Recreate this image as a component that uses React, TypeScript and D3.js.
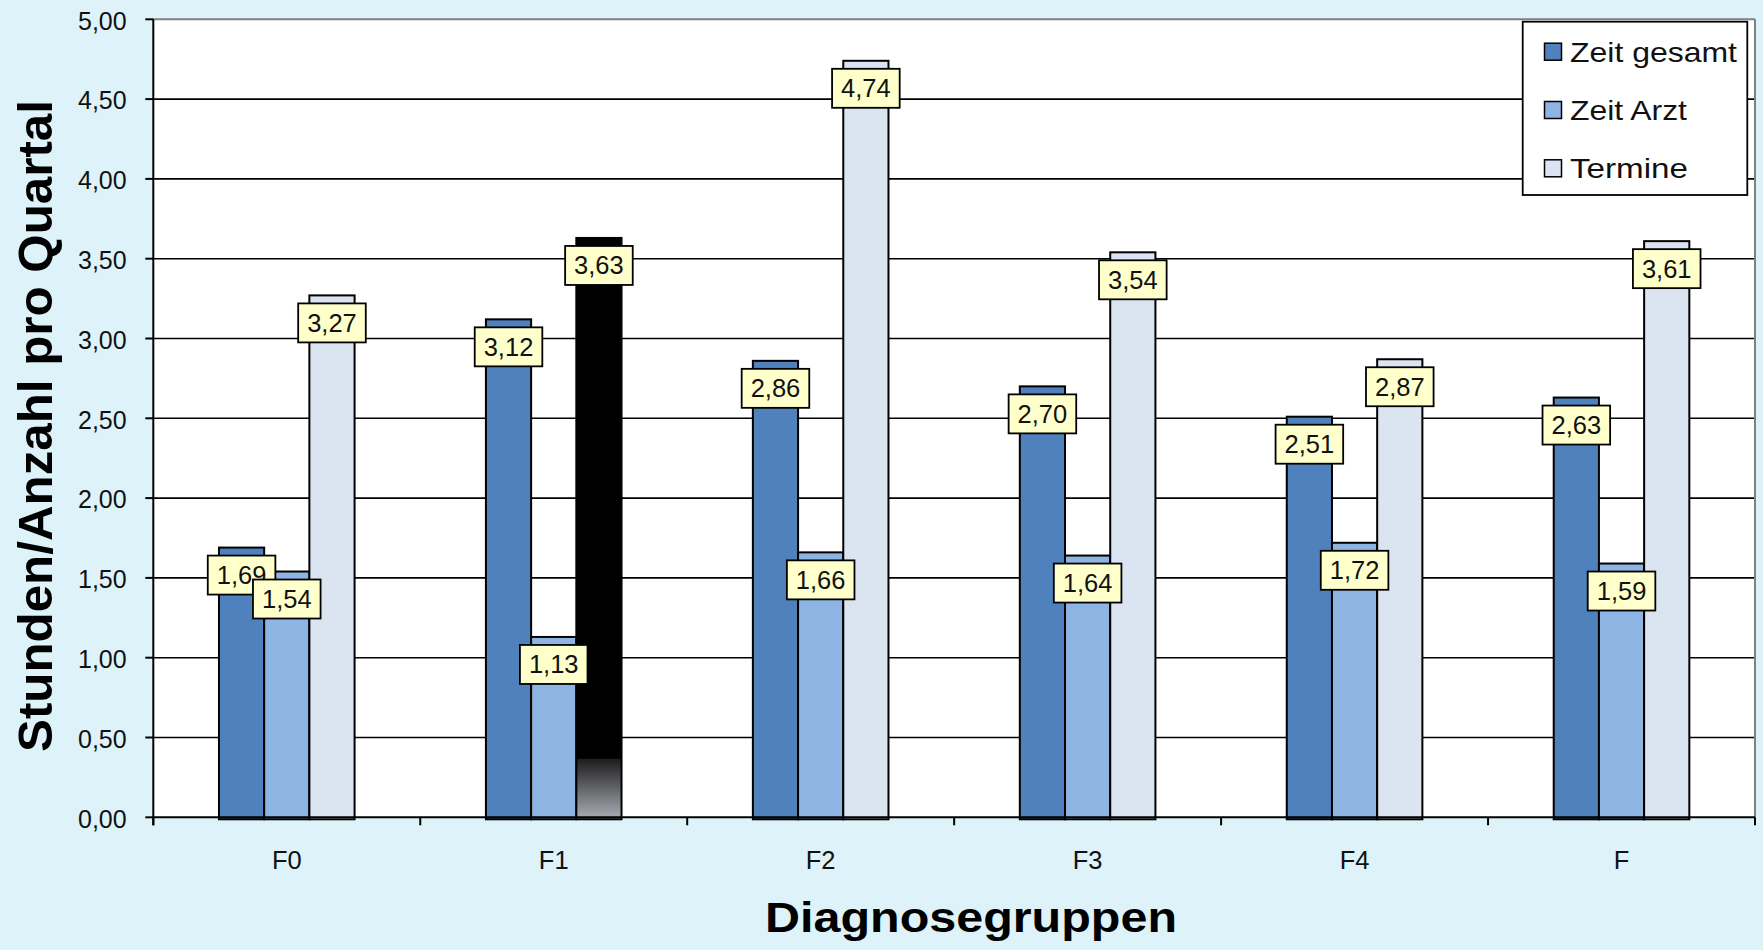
import React from "react";
import * as d3 from "d3";

const categories = ["F0", "F1", "F2", "F3", "F4", "F"];
const seriesNames = ["Zeit gesamt", "Zeit Arzt", "Termine"];
const zeitGesamt = [1.69, 3.12, 2.86, 2.7, 2.51, 2.63];
const zeitArzt = [1.54, 1.13, 1.66, 1.64, 1.72, 1.59];
const termine = [3.27, 3.63, 4.74, 3.54, 2.87, 3.61];
const yTicks = [0, 0.5, 1, 1.5, 2, 2.5, 3, 3.5, 4, 4.5, 5];
const seriesValues = [zeitGesamt, zeitArzt, termine];

const W = 1763;
const H = 950;
const FONT = "'Liberation Sans', Arial, Helvetica, sans-serif";
const colors = ["#4f81bd", "#8eb4e3", "#dbe5f1"];
const plotLeft = 153.3;
const plotRight = 1755;
const plotTop = 19.3;
const plotBottom = 817.3;

const fmt = (v: number) => v.toFixed(2).replace(".", ",");

export default function App() {
  const x0 = d3.scaleBand<string>().domain(categories).range([plotLeft, plotRight]).paddingInner(0).paddingOuter(0);
  const bw = x0.bandwidth();
  const gw = bw * 0.508;
  const x1 = d3.scaleBand<string>().domain(seriesNames).range([(bw - gw) / 2, (bw + gw) / 2]).padding(0);
  const y = d3.scaleLinear().domain([0, 5]).range([plotBottom, plotTop]);

  const bars: { cat: string; s: string; si: number; v: number; x: number; w: number }[] = [];
  seriesNames.forEach((s, si) => {
    categories.forEach((c, ci) => {
      bars.push({ cat: c, s, si, v: seriesValues[si][ci], x: (x0(c) as number) + (x1(s) as number), w: x1.bandwidth() });
    });
  });

  const boundaries = categories.map((c) => x0(c) as number).concat([plotRight]);

  return (
    <svg width={W} height={H} style={{ position: "absolute", left: 0, top: 0, display: "block" }} fontFamily={FONT}>
      <defs>
        <linearGradient id="glitch" gradientUnits="userSpaceOnUse" x1="0" x2="0" y1={y(3.63)} y2={y(0)}>
          <stop offset="0" stopColor="#000" />
          <stop offset="0.898" stopColor="#000" />
          <stop offset="0.9" stopColor="#1e1e1e" />
          <stop offset="1" stopColor="#a7aab2" />
        </linearGradient>
      </defs>
      <rect x={0} y={0} width={W} height={H} fill="#ddf3f9" />
      <rect x={plotLeft} y={plotTop} width={plotRight - plotLeft} height={plotBottom - plotTop} fill="#ffffff" />
      {yTicks.filter((t) => t > 0 && t < 5).map((t) => (
        <line key={"g" + t} x1={plotLeft} x2={plotRight} y1={y(t)} y2={y(t)} stroke="#000" strokeWidth={1.6} />
      ))}
      <line x1={plotLeft} x2={plotRight} y1={plotTop} y2={plotTop} stroke="#808080" strokeWidth={2} />
      <line x1={plotRight} x2={plotRight} y1={plotTop} y2={plotBottom} stroke="#808080" strokeWidth={2} />
      {/* y axis */}
      <line x1={plotLeft} x2={plotLeft} y1={plotTop} y2={plotBottom + 8} stroke="#000" strokeWidth={2} />
      {yTicks.map((t) => (
        <g key={"t" + t}>
          <line x1={plotLeft - 8} x2={plotLeft} y1={y(t)} y2={y(t)} stroke="#000" strokeWidth={2} />
          <text x={126.7} y={y(t) + 1.5} dy="0.35em" textAnchor="end" fontSize={25} fill="#111">
            {fmt(t)}
          </text>
        </g>
      ))}
      {/* bars */}
      {bars.map((b) => (
        <rect
          key={b.cat + b.s}
          x={b.x}
          y={y(b.v)}
          width={b.w}
          height={y(0) - y(b.v) + 2}
          fill={b.cat === "F1" && b.si === 2 ? "url(#glitch)" : colors[b.si]}
          stroke="#000"
          strokeWidth={2}
        />
      ))}
      {/* x axis */}
      <line x1={plotLeft} x2={plotRight} y1={plotBottom} y2={plotBottom} stroke="#000" strokeWidth={2} />
      {boundaries.map((bx, i) => (
        <line key={"xt" + i} x1={bx} x2={bx} y1={plotBottom} y2={plotBottom + 8} stroke="#000" strokeWidth={2} />
      ))}
      {categories.map((c) => (
        <text key={"xl" + c} x={(x0(c) as number) + bw / 2} y={869} textAnchor="middle" fontSize={25.5} fill="#111">
          {c}
        </text>
      ))}
      {/* data labels */}
      {bars.map((b) => {
        const cx = b.x + b.w / 2;
        const cy = y(b.v) + 27.5;
        return (
          <g key={"lb" + b.cat + b.s}>
            <rect x={cx - 33.8} y={cy - 19.5} width={67.6} height={39} fill="#ffffcc" stroke="#000" strokeWidth={1.8} />
            <text x={cx} y={cy} dy="0.35em" textAnchor="middle" fontSize={25.5} fill="#111">
              {fmt(b.v)}
            </text>
          </g>
        );
      })}
      {/* legend */}
      <rect x={1522.7} y={21.7} width={224.6} height={173.3} fill="#fff" stroke="#000" strokeWidth={1.8} />
      {seriesNames.map((s, i) => {
        const cy = 51.7 + i * 58.3;
        const lens = [167, 117, 118];
        return (
          <g key={"lg" + s}>
            <rect x={1544.5} y={cy - 8.5} width={17} height={17} fill={colors[i]} stroke="#000" strokeWidth={1.5} />
            <text x={1570} y={cy} dy="0.36em" fontSize={28} fill="#111" textLength={lens[i]} lengthAdjust="spacingAndGlyphs">
              {s}
            </text>
          </g>
        );
      })}
      {/* axis titles */}
      <text
        transform={`translate(52,426) rotate(-90)`}
        textAnchor="middle"
        fontSize={49}
        fontWeight="bold"
        fill="#000"
        textLength={652}
        lengthAdjust="spacingAndGlyphs"
      >
        Stunden/Anzahl pro Quartal
      </text>
      <text x={971} y={932} textAnchor="middle" fontSize={43} fontWeight="bold" fill="#000" textLength={412} lengthAdjust="spacingAndGlyphs">
        Diagnosegruppen
      </text>
    </svg>
  );
}
